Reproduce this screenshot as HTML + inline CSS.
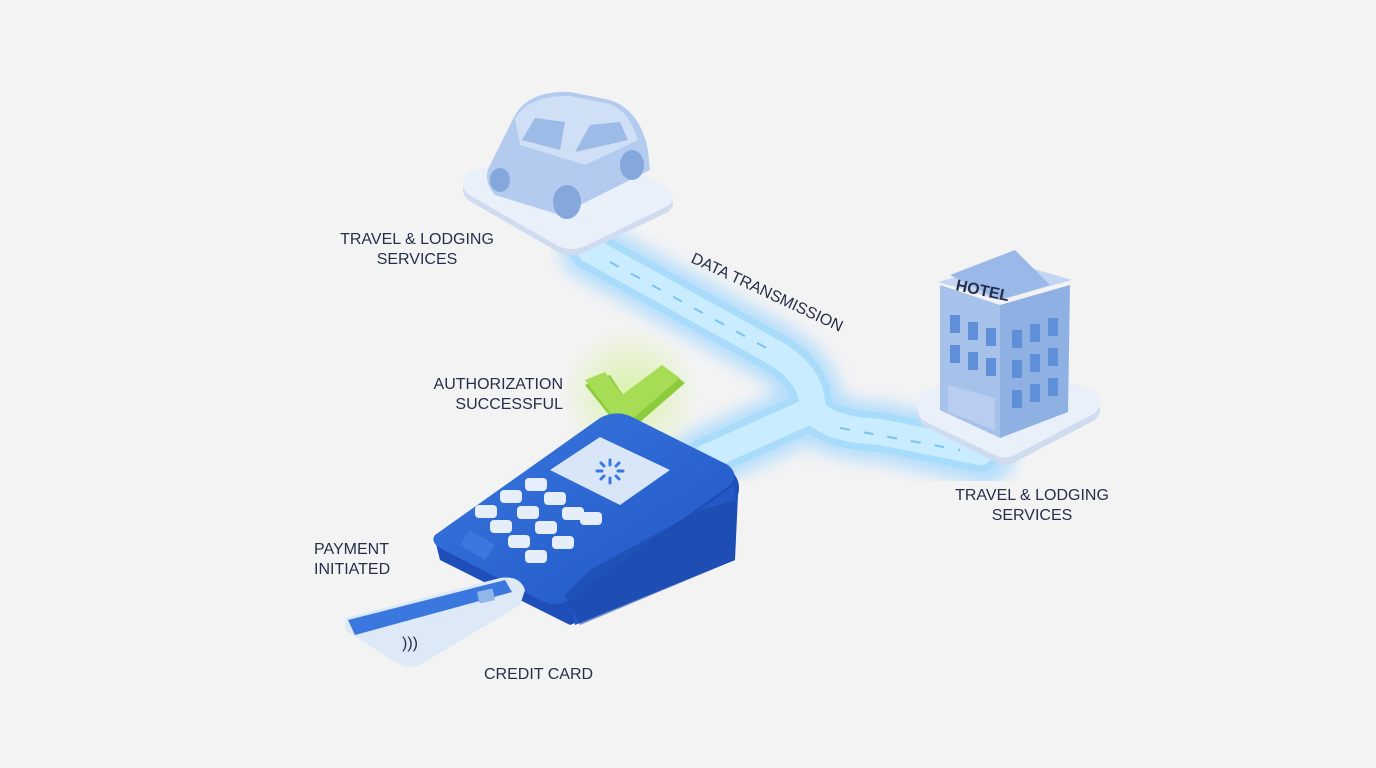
<!DOCTYPE html>
<html><head><meta charset="utf-8"><style>
html,body{margin:0;padding:0;background:#f3f3f4;}
svg{display:block}
text{font-family:"Liberation Sans",sans-serif;fill:#26304a;font-size:16px;}
</style></head><body>
<svg width="1376" height="768" viewBox="0 0 1376 768" xmlns="http://www.w3.org/2000/svg">
<defs>
<filter id="blur8"><feGaussianBlur stdDeviation="8"/></filter>
<linearGradient id="term" x1="0" y1="0" x2="1" y2="1"><stop offset="0" stop-color="#3a78e0"/><stop offset="1" stop-color="#1f55c4"/></linearGradient>
<radialGradient id="gglow"><stop offset="0" stop-color="#d6f2a0" stop-opacity=".9"/><stop offset="1" stop-color="#d6f2a0" stop-opacity="0"/></radialGradient>
</defs>
<rect width="1376" height="768" fill="#f3f3f4"/>

<g filter="url(#blur8)" opacity=".6">
<path d="M590 250 L770 350 Q815 375 812 410 L700 460 M812 410 Q830 430 880 432 L985 455" stroke="#8fd0ff" stroke-width="60" fill="none" stroke-linecap="round" stroke-linejoin="round"/>
</g>
<path d="M590 250 L770 350 Q815 375 812 410 L705 458 M812 410 Q830 430 880 432 L980 452" stroke="#a9dcfb" stroke-width="40" fill="none" stroke-linecap="round" stroke-linejoin="round"/>
<path d="M590 250 L770 350 Q815 375 812 410 L705 458 M812 410 Q830 430 880 432 L980 452" stroke="#c9ecff" stroke-width="26" fill="none" stroke-linecap="round" stroke-linejoin="round"/>
<path d="M610 262 L770 350 M840 428 L960 450" stroke="#7cc2f0" stroke-width="2" stroke-dasharray="10 14" fill="none"/>

<!-- car platform -->
<path d="M468 178 L575 150 Q585 148 595 152 L668 195 Q678 203 668 212 L585 252 Q572 258 558 252 L468 200 Q458 190 468 178Z" fill="#cfdcef"/>
<path d="M468 172 L575 144 Q585 142 595 146 L668 189 Q678 197 668 206 L585 246 Q572 252 558 246 L468 194 Q458 184 468 172Z" fill="#e9f0fa"/>
<!-- car -->
<path d="M490 165 L515 115 Q530 90 570 92 L610 100 Q640 110 648 150 L650 170 L560 215 L495 195 Q482 180 490 165Z" fill="#b3cbee"/>
<path d="M515 118 Q530 95 570 96 L610 104 Q630 112 638 140 L585 165 L520 145Z" fill="#cfdff5"/>
<path d="M522 140 L535 118 L565 122 L560 150Z" fill="#9dbbe7"/>
<path d="M575 152 L590 125 L620 122 L628 140Z" fill="#9dbbe7"/>
<ellipse cx="567" cy="202" rx="14" ry="17" fill="#84a7dc"/>
<ellipse cx="632" cy="165" rx="12" ry="15" fill="#84a7dc"/>
<ellipse cx="500" cy="180" rx="10" ry="12" fill="#84a7dc"/>

<!-- hotel platform -->
<path d="M925 395 L1010 370 L1095 395 Q1105 410 1095 420 L1015 462 Q1005 467 995 462 L922 425 Q912 410 925 395Z" fill="#cfdcef"/>
<path d="M925 390 L1010 365 L1095 390 Q1105 403 1095 413 L1015 455 Q1005 460 995 455 L922 420 Q912 405 925 390Z" fill="#e9f0fa"/>
<path d="M940 285 L1000 305 L1000 438 L940 410Z" fill="#a6c1ea"/>
<path d="M1000 305 L1070 285 L1068 412 L1000 438Z" fill="#8eb0e3"/>
<path d="M938 282 L1000 300 L1072 280 L1010 262Z" fill="#c3d5f2"/>
<path d="M950 275 L1015 250 L1050 285 L1000 300Z" fill="#9ab8e8"/>
<text x="955" y="290" font-size="13" font-weight="bold" fill="#3a64b8" transform="rotate(12 955 290)">HOTEL</text>
<g fill="#5f8fd8">
<rect x="950" y="315" width="10" height="18"/><rect x="968" y="322" width="10" height="18"/><rect x="986" y="328" width="10" height="18"/>
<rect x="950" y="345" width="10" height="18"/><rect x="968" y="352" width="10" height="18"/><rect x="986" y="358" width="10" height="18"/>
<rect x="1012" y="330" width="10" height="18"/><rect x="1030" y="324" width="10" height="18"/><rect x="1048" y="318" width="10" height="18"/>
<rect x="1012" y="360" width="10" height="18"/><rect x="1030" y="354" width="10" height="18"/><rect x="1048" y="348" width="10" height="18"/>
<rect x="1012" y="390" width="10" height="18"/><rect x="1030" y="384" width="10" height="18"/><rect x="1048" y="378" width="10" height="18"/>
</g>
<path d="M948 385 L995 398 L995 430 L948 412Z" fill="#b8cdef"/>

<circle cx="630" cy="395" r="70" fill="url(#gglow)"/>
<path d="M585 385 L610 375 L625 398 L665 368 L685 383 L625 435Z" fill="#8ccc3c"/>
<path d="M585 380 L605 372 L622 395 L662 365 L680 378 L622 428Z" fill="#a7dc55"/>

<!-- terminal -->
<path d="M435 540 L600 420 Q615 412 630 418 L730 470 Q742 480 738 495 L735 560 L570 625 L440 560Z" fill="#1e4fb8"/>
<path d="M435 535 L600 418 Q615 410 630 416 L728 465 Q740 475 730 485 L570 600 Q555 608 540 600 L440 548 Q430 542 435 535Z" fill="url(#term)"/>
<path d="M570 600 L735 485 L735 560 L575 625Z" fill="#2558c6"/>
<path d="M565 595 L590 570 L700 510 L735 500 L735 560 L580 625Z" fill="#1a48a8" opacity=".6"/>
<path d="M550 470 L600 437 L670 470 L620 505Z" fill="#d8e6f7"/>
<g stroke="#3a78e0" stroke-width="3" stroke-linecap="round">
<line x1="610" y1="460" x2="610" y2="465"/><line x1="610" y1="478" x2="610" y2="483"/><line x1="597" y1="471" x2="602" y2="471"/><line x1="618" y1="471" x2="623" y2="471"/>
<line x1="601" y1="463" x2="604" y2="466"/><line x1="616" y1="476" x2="619" y2="479"/><line x1="616" y1="466" x2="619" y2="463"/><line x1="601" y1="479" x2="604" y2="476"/>
</g>
<g fill="#e6eef9">
<rect x="475" y="505" width="22" height="13" rx="4"/>
<rect x="500" y="490" width="22" height="13" rx="4"/>
<rect x="525" y="478" width="22" height="13" rx="4"/>
<rect x="490" y="520" width="22" height="13" rx="4"/>
<rect x="517" y="506" width="22" height="13" rx="4"/>
<rect x="544" y="492" width="22" height="13" rx="4"/>
<rect x="508" y="535" width="22" height="13" rx="4"/>
<rect x="535" y="521" width="22" height="13" rx="4"/>
<rect x="562" y="507" width="22" height="13" rx="4"/>
<rect x="580" y="512" width="22" height="13" rx="4"/>
<rect x="525" y="550" width="22" height="13" rx="4"/>
<rect x="552" y="536" width="22" height="13" rx="4"/>
</g>
<path d="M460 545 L470 530 L495 545 L485 560Z" fill="#3a78e0"/>

<!-- card -->
<path d="M345 618 L500 578 Q520 575 525 590 L520 605 L420 665 Q405 670 395 662 L345 630Z" fill="#dde9f7"/>
<path d="M348 620 L505 580 L512 592 L355 635Z" fill="#3a78e0"/>
<rect x="478" y="590" width="16" height="12" rx="2" fill="#8fb7ea" transform="rotate(-12 486 596)"/>
<text x="402" y="648" font-size="12" fill="#3a78e0">)))</text>

<text x="417" y="244" text-anchor="middle">TRAVEL &amp; LODGING</text>
<text x="417" y="264" text-anchor="middle">SERVICES</text>
<text x="1032" y="500" text-anchor="middle">TRAVEL &amp; LODGING</text>
<text x="1032" y="520" text-anchor="middle">SERVICES</text>
<text x="690" y="262" transform="rotate(25 690 262)">DATA TRANSMISSION</text>
<text x="563" y="389" text-anchor="end">AUTHORIZATION</text>
<text x="563" y="409" text-anchor="end">SUCCESSFUL</text>
<text x="314" y="554">PAYMENT</text>
<text x="314" y="574">INITIATED</text>
<text x="484" y="679">CREDIT CARD</text>
</svg>
</body></html>
